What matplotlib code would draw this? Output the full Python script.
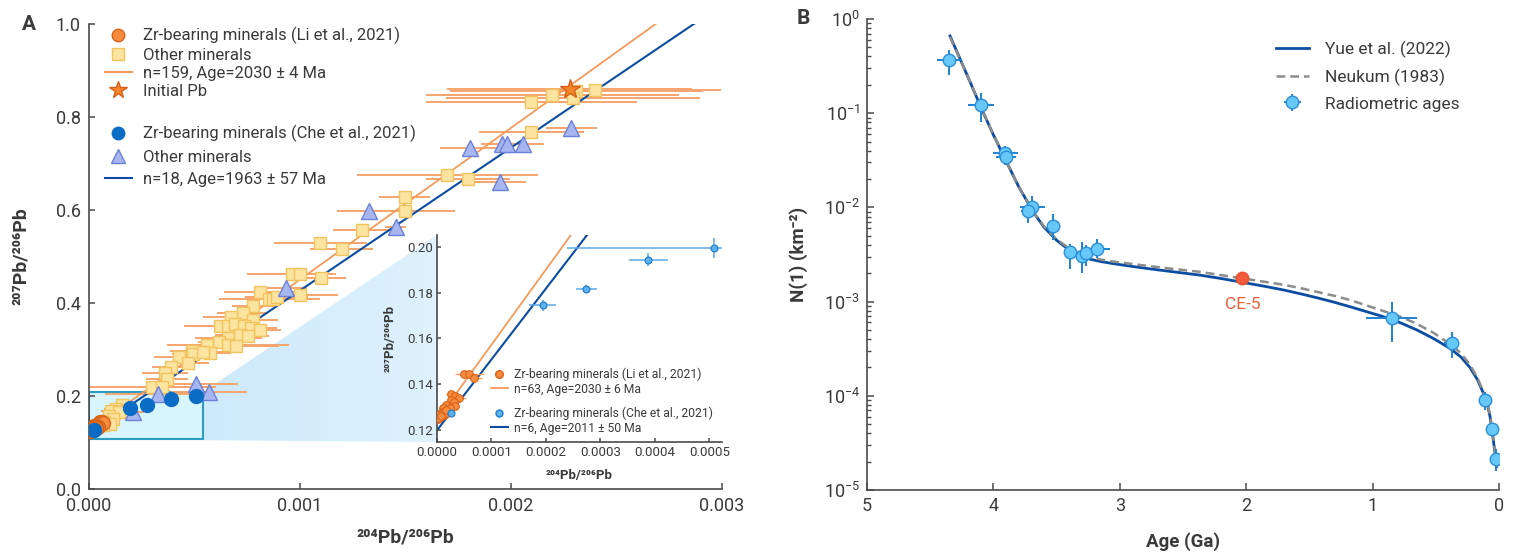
import numpy as np
import matplotlib
matplotlib.use("Agg")
import matplotlib.pyplot as plt
from matplotlib.patches import Rectangle, Polygon
from matplotlib.lines import Line2D
from matplotlib.colors import LinearSegmentedColormap

plt.rcParams['font.family'] = ['Roboto', 'DejaVu Sans']
plt.rcParams['mathtext.fontset'] = 'custom'
plt.rcParams['mathtext.rm'] = 'Roboto'
plt.rcParams['axes.unicode_minus'] = False

# ---------------- Panel A data (204Pb/206Pb vs 207Pb/206Pb) ----------------
# Zr-bearing minerals (Li et al., 2021)
li_zr_x = [0.0000500, 0.0000594, 0.0000675, 0.0000250, 0.0000325, 0.0000406, 0.0000250,
           0.0000313, 0.0000331, 0.0000156, 0.0000238, 0.0000113, 0.0000094, 0.0000063,
           0.0000019, 0.0000050, 0.0000013, 0.0000125, 0.0000188, 0.0000030, 0.0000080, 0.0000170]
li_zr_y = [0.1444, 0.1444, 0.1428, 0.1357, 0.1348, 0.1341, 0.1331,
           0.1324, 0.1308, 0.1312, 0.1295, 0.1295, 0.1280, 0.1273,
           0.1265, 0.1258, 0.1248, 0.1265, 0.1276, 0.1255, 0.1262, 0.1290]
li_zr_xerr = [0.000012, 0.000027, 0.000015, 0.000008, 0.000010, 0.000012, 0.000006,
              0.000008, 0.000006, 0.000008, 0.000006, 0.000005, 0.000005, 0.000004,
              0.000003, 0.000004, 0.000003, 0.000005, 0.000006, 0.000003, 0.000004, 0.000005]

# Other minerals (Li et al., 2021)
li_oth_x = [0.002397, 0.00231, 0.002196, 0.002294, 0.002097, 0.002097, 0.001698, 0.001797,
            0.001496, 0.001496, 0.001296, 0.001097, 0.001198, 0.00096, 0.001, 0.001098,
            0.00081, 0.000854, 0.000873, 0.00089, 0.001, 0.000778, 0.000728, 0.000671,
            0.000778, 0.00062, 0.00066, 0.000691, 0.000734, 0.00077, 0.00081, 0.00066,
            0.000715, 0.000755, 0.000617, 0.00066, 0.000699, 0.00056, 0.000573, 0.000486,
            0.000491, 0.000538, 0.000427, 0.00047, 0.000388, 0.000359, 0.00037, 0.0003,
            0.000348, 0.000158, 0.00013, 0.000174, 0.000106, 0.00014, 0.000095, 0.000114,
            0.00007, 0.000098, 0.000066]
li_oth_y = [0.859, 0.856, 0.847, 0.840, 0.833, 0.768, 0.675, 0.667,
            0.629, 0.5986, 0.5577, 0.529, 0.516, 0.463, 0.463, 0.454,
            0.423, 0.409, 0.409, 0.412, 0.418, 0.394, 0.3785, 0.3706,
            0.3628, 0.351, 0.351, 0.355, 0.350, 0.346, 0.343, 0.3254,
            0.331, 0.328, 0.3154, 0.3097, 0.308, 0.3097, 0.2925, 0.2974,
            0.290, 0.295, 0.2839, 0.271, 0.2617, 0.2494, 0.2366, 0.22,
            0.22, 0.1806, 0.1725, 0.1667, 0.1667, 0.166, 0.158, 0.1505,
            0.145, 0.1398, 0.137]
li_oth_xerr = [0.0006, 0.0006, 0.0006, 0.0006, 0.0005, 0.00025, 0.00043, 0.0002,
               0.00012, 0.00024, 0.00014, 0.00022, 0.00015, 0.00021, 0.00015, 0.00012,
               0.00017, 0.00024, 0.0002, 0.00015, 0.00018, 0.0001, 0.00012, 0.00013,
               0.00012, 0.00017, 0.00015, 0.0001, 0.0001, 0.00012, 0.0001, 0.00016,
               0.00012, 0.0001, 0.0001, 0.00029, 0.0002, 0.00012, 0.0001, 0.0001,
               0.0001, 0.0001, 0.00012, 0.0001, 0.00009, 0.00011, 0.0001, 0.0003,
               0.00025, 0.00006, 0.00006, 0.00005, 0.00005, 0.00005, 0.00005, 0.00004,
               0.00004, 0.00004, 0.00003]

# Initial Pb
init_pb_x = [0.002278]
init_pb_y = [0.860]
init_pb_xerr = [0.00058]

# Zr-bearing minerals (Che et al., 2021)
che_zr_x = [0.000025, 0.000194, 0.000274, 0.0003875, 0.000509]
che_zr_y = [0.1276, 0.1744, 0.1817, 0.1943, 0.1996]
che_zr_xerr = [0.000008, 0.000025, 0.000019, 0.000036, 0.00027]
che_zr_yerr = [0.0015, 0.0025, 0.0017, 0.0029, 0.0044]

# Other minerals (Che et al., 2021)
che_oth_x = [0.002286, 0.001804, 0.001959, 0.001983, 0.002057, 0.00195, 0.001327,
             0.001453, 0.000934, 0.000506, 0.00057, 0.000328, 0.000209]
che_oth_y = [0.776, 0.7326, 0.743, 0.743, 0.742, 0.661, 0.5986,
             0.5627, 0.432, 0.225, 0.2086, 0.2036, 0.1657]
che_oth_xerr = [0.00012, 0.00014, 0.0001, 0.0001, 0.0001, 0.00012, 0.00015,
                0.00005, 0.0001, 0.0002, 0.00018, 0.00025, 0.00005]

# isochrons: (intercept, slope)
iso_li_all = (0.1245, 326.0)
iso_che_all = (0.120, 307.0)
iso_li_zr = (0.1245, 328.0)
iso_che_zr = (0.120, 309.0)

# ---------------- Panel B data (crater chronology) ----------------
curve_age = [4.343, 4.2, 4.093, 4.0, 3.895, 3.8, 3.684, 3.6, 3.499, 3.394, 3.3, 3.236,
             3.15, 3.051, 2.9, 2.787, 2.6, 2.366, 2.2, 2.028, 1.85, 1.706, 1.57, 1.442,
             1.3, 1.179, 1.05, 0.915, 0.78, 0.651, 0.52, 0.388, 0.3, 0.23, 0.17, 0.124,
             0.09, 0.071, 0.045, 0.018]
yue_n = [0.661, 0.240, 0.111, 0.0589, 0.0302, 0.0166, 8.91e-3, 6.17e-3, 4.47e-3, 3.47e-3,
         3.02e-3, 2.82e-3, 2.66e-3, 2.53e-3, 2.36e-3, 2.25e-3, 2.09e-3, 1.91e-3, 1.76e-3,
         1.60e-3, 1.45e-3, 1.33e-3, 1.21e-3, 1.10e-3, 9.82e-4, 8.83e-4, 7.83e-4, 6.92e-4,
         5.96e-4, 5.01e-4, 4.07e-4, 3.19e-4, 2.57e-4, 2.00e-4, 1.48e-4, 1.07e-4, 7.94e-5,
         6.03e-5, 3.39e-5, 1.78e-5]
neukum_n = [0.646, 0.240, 0.112, 0.0589, 0.0302, 0.0166, 8.91e-3, 6.31e-3, 4.57e-3, 3.63e-3,
            3.16e-3, 2.95e-3, 2.79e-3, 2.66e-3, 2.51e-3, 2.40e-3, 2.24e-3, 2.07e-3, 1.91e-3,
            1.76e-3, 1.62e-3, 1.51e-3, 1.39e-3, 1.27e-3, 1.15e-3, 1.04e-3, 9.12e-4, 7.94e-4,
            6.92e-4, 5.82e-4, 4.68e-4, 3.55e-4, 2.82e-4, 2.14e-4, 1.55e-4, 1.10e-4, 7.94e-5,
            6.31e-5, 3.55e-5, 1.74e-5]

rad_age = [4.349, 4.098, 3.906, 3.90, 3.692, 3.724, 3.531, 3.394, 3.297, 3.27, 3.178,
           0.849, 0.374, 0.111, 0.053, 0.024]
rad_age_err = [0.10, 0.10, 0.10, 0.08, 0.10, 0.06, 0.03, 0.05, 0.07, 0.04, 0.10,
               0.20, 0.06, 0.02, 0.01, 0.01]
rad_n = [0.367, 0.122, 0.0375, 0.034, 0.0102, 0.0091, 0.0064, 0.00333, 0.00305, 0.0033,
         0.00365, 6.75e-4, 3.6e-4, 9.0e-5, 4.4e-5, 2.12e-5]
rad_n_lo = [0.254, 0.081, 0.0282, 0.028, 0.0079, 0.0068, 0.0045, 0.0022, 0.0020, 0.0024,
            0.0029, 3.7e-4, 2.5e-4, 7.0e-5, 3.8e-5, 1.6e-5]
rad_n_hi = [0.468, 0.163, 0.0447, 0.040, 0.0132, 0.0112, 0.0085, 0.0041, 0.0043, 0.0040,
            0.0046, 9.8e-4, 4.8e-4, 1.1e-4, 5.0e-5, 2.7e-5]

ce5_age = [2.03]
ce5_n = [1.77e-3]
ce5_n_lo = [1.65e-3]
ce5_n_hi = [1.90e-3]

# ---------------- styles ----------------
c_orange_line = '#f59a5a'
c_err = '#f6a56e'
c_blue_line = '#0b4da2'
c_sq_face, c_sq_edge = '#fbe3a0', '#f2c45e'
c_tri_face, c_tri_edge = '#a8b6f0', '#6a80da'
c_li_face, c_li_edge = '#f68c3c', '#d9621b'
c_che = '#0a6cc4'
c_axis = '#4a4a4a'
c_text = '#3a3a3a'

W, H = 1521, 560
fig = plt.figure(figsize=(W / 100, H / 100), dpi=100)


def fbox(l, t, r, b):
    return [l / W, 1 - b / H, (r - l) / W, (b - t) / H]


def style_axes(ax, size, length=4, pad=5):
    for s in ['top', 'right']:
        ax.spines[s].set_visible(False)
    for s in ['left', 'bottom']:
        ax.spines[s].set_color(c_axis)
        ax.spines[s].set_linewidth(1.2)
    ax.tick_params(direction='in', length=length, width=1.1, color=c_axis,
                   labelsize=size, labelcolor=c_text, pad=pad)


axA = fig.add_axes(fbox(89, 24, 722, 489))
axB = fig.add_axes(fbox(867, 19, 1499, 490))
axI = fig.add_axes(fbox(437, 235, 722, 442))

# ---------------- Panel A main ----------------
axA.set_xlim(0, 0.003)
axA.set_ylim(0, 1.0)
style_axes(axA, 13, length=4, pad=6)
axA.set_xticks([0, 0.001, 0.002, 0.003])
axA.set_xticklabels(['0.000', '0.001', '0.002', '0.003'])
axA.set_yticks([0, 0.2, 0.4, 0.6, 0.8, 1.0])
axA.set_yticklabels(['0.0', '0.2', '0.4', '0.6', '0.8', '1.0'])

# zoom box + shading towards inset
rx0, ry0, rx1, ry1 = 0.0, 0.107, 0.00054, 0.2086
axA.add_patch(Rectangle((rx0, ry0), rx1 - rx0, ry1 - ry0, facecolor='#d8f4fc',
                        edgecolor='#2b9cc4', lw=1.5, zorder=1))
inv = axA.transData.inverted()
ins_bl = inv.transform(fig.transFigure.transform((437 / W, 1 - 442 / H)))
ins_tl = inv.transform(fig.transFigure.transform((437 / W, 1 - 235 / H)))
shade_xy = [(rx1, ry1), (ins_tl[0], ins_tl[1]), (ins_bl[0], ins_bl[1]), (rx1, ry0 - 0.002)]
poly = Polygon(shade_xy, closed=True, facecolor='none', edgecolor='none')
axA.add_patch(poly)
shade_cmap = LinearSegmentedColormap.from_list('shade', ['#cde9fb', '#dff2fd'])
gimg = axA.imshow(np.linspace(0, 1, 256).reshape(1, -1), cmap=shade_cmap,
                  extent=[rx1, ins_tl[0], ins_bl[1], ins_tl[1]], aspect='auto',
                  origin='lower', zorder=0.5)
gimg.set_clip_path(poly)
axA.set_xlim(0, 0.003)
axA.set_ylim(0, 1.0)

# isochron lines
xl = np.array([0, 0.003])
axA.plot(xl, iso_li_all[0] + iso_li_all[1] * xl, color=c_orange_line, lw=1.3, zorder=2)
axA.plot(xl, iso_che_all[0] + iso_che_all[1] * xl, color=c_blue_line, lw=1.5, zorder=2)

# error bars
axA.errorbar(li_oth_x, li_oth_y, xerr=li_oth_xerr, yerr=0.004, fmt='none',
             ecolor=c_err, elinewidth=1.4, capsize=0, zorder=1.5)
axA.errorbar(che_oth_x, che_oth_y, xerr=che_oth_xerr, yerr=0.004, fmt='none',
             ecolor=c_err, elinewidth=1.4, capsize=0, zorder=1.5)
axA.errorbar(init_pb_x, init_pb_y, xerr=init_pb_xerr, fmt='none',
             ecolor=c_err, elinewidth=1.4, capsize=0, zorder=1.5)

axA.plot(li_oth_x, li_oth_y, ls='none', marker='s', ms=9, mfc=c_sq_face, mec=c_sq_edge,
         mew=1, zorder=3)
axA.plot(che_oth_x, che_oth_y, ls='none', marker='^', ms=11, mfc=c_tri_face, mec=c_tri_edge,
         mew=1, zorder=4)
axA.plot(li_zr_x, li_zr_y, ls='none', marker='o', ms=10, mfc=c_li_face, mec=c_li_edge,
         mew=1, zorder=5)
axA.plot(che_zr_x, che_zr_y, ls='none', marker='o', ms=10, mfc=c_che, mec=c_che,
         mew=1, zorder=6)
axA.plot(init_pb_x, init_pb_y, ls='none', marker='*', ms=15, mfc='#f5852a', mec='#d45f18',
         mew=1, zorder=7)

axA.set_xlabel('²⁰⁴Pb/²⁰⁶Pb', fontsize=14, fontweight='bold', color=c_text)
axA.xaxis.set_label_coords(0.5, -0.085)
axA.set_ylabel('²⁰⁷Pb/²⁰⁶Pb', fontsize=14, fontweight='bold', color=c_text)
axA.yaxis.set_label_coords(-0.093, 0.5)

leg_a1 = [
    (Line2D([], [], ls='none', marker='o', ms=9, mfc=c_li_face, mec=c_li_edge),
     'Zr-bearing minerals (Li et al., 2021)'),
    (Line2D([], [], ls='none', marker='s', ms=8, mfc=c_sq_face, mec=c_sq_edge),
     'Other minerals'),
    (Line2D([], [], color=c_orange_line, lw=1.5), 'n=159, Age=2030 ± 4 Ma'),
    (Line2D([], [], ls='none', marker='*', ms=13, mfc='#f5852a', mec='#d45f18'),
     'Initial Pb'),
]
leg_a2 = [
    (Line2D([], [], ls='none', marker='o', ms=9, mfc=c_che, mec=c_che),
     'Zr-bearing minerals (Che et al., 2021)'),
    (Line2D([], [], ls='none', marker='^', ms=10, mfc=c_tri_face, mec=c_tri_edge),
     'Other minerals'),
    (Line2D([], [], color=c_blue_line, lw=1.5), 'n=18, Age=1963 ± 57 Ma'),
]
lg1 = axA.legend([h for h, _ in leg_a1], [t for _, t in leg_a1], loc='upper left',
                 bbox_to_anchor=(105 / W, 1 - 27 / H), bbox_transform=fig.transFigure,
                 frameon=False, fontsize=12, handlelength=1.6, handletextpad=0.7,
                 labelspacing=0.2, borderpad=0, borderaxespad=0, labelcolor=c_text)
axA.add_artist(lg1)
axA.legend([h for h, _ in leg_a2], [t for _, t in leg_a2], loc='upper left',
           bbox_to_anchor=(105 / W, 1 - 125 / H), bbox_transform=fig.transFigure,
           frameon=False, fontsize=12, handlelength=1.6, handletextpad=0.7,
           labelspacing=0.45, borderpad=0, borderaxespad=0, labelcolor=c_text)

axA.text(-0.095, 1.0, 'A', transform=axA.transAxes, fontsize=15, fontweight='bold',
         color=c_text, ha='center', va='center')

# ---------------- Panel A inset ----------------
axI.set_facecolor('white')
style_axes(axI, 9.5, length=3, pad=3)
axI.set_xlim(0, 0.000523)
axI.set_ylim(0.1149, 0.2051)
axI.set_xticks([0, 0.0001, 0.0002, 0.0003, 0.0004, 0.0005])
axI.set_xticklabels(['0.0000', '0.0001', '0.0002', '0.0003', '0.0004', '0.0005'])
axI.set_yticks([0.12, 0.14, 0.16, 0.18, 0.20])
axI.set_yticklabels(['0.12', '0.14', '0.16', '0.18', '0.20'])

xi = np.array([0, 0.0006])
axI.plot(xi, iso_li_zr[0] + iso_li_zr[1] * xi, color=c_orange_line, lw=1.3, zorder=2)
axI.plot(xi, iso_che_zr[0] + iso_che_zr[1] * xi, color=c_blue_line, lw=1.5, zorder=2)
axI.errorbar(li_zr_x, li_zr_y, xerr=li_zr_xerr, yerr=0.0008, fmt='o', ms=5.5,
             mfc=c_li_face, mec=c_li_edge, mew=0.8, ecolor=c_err, elinewidth=1,
             capsize=0, zorder=4)
axI.errorbar(che_zr_x, che_zr_y, xerr=che_zr_xerr, yerr=che_zr_yerr, fmt='o', ms=5,
             mfc='#5cb2ec', mec='#1f78c8', mew=0.8, ecolor='#5aa9e8', elinewidth=1.1,
             capsize=0, zorder=4)
axI.set_xlabel('²⁰⁴Pb/²⁰⁶Pb', fontsize=9.5, fontweight='bold', color=c_text)
axI.xaxis.set_label_coords(0.5, -0.13)
axI.set_ylabel('²⁰⁷Pb/²⁰⁶Pb', fontsize=9.5, fontweight='bold', color=c_text)
axI.yaxis.set_label_coords(-0.14, 0.5)

leg_i1 = [
    (Line2D([], [], ls='none', marker='o', ms=5.5, mfc=c_li_face, mec=c_li_edge),
     'Zr-bearing minerals (Li et al., 2021)'),
    (Line2D([], [], color=c_orange_line, lw=1.3), 'n=63, Age=2030 ± 6 Ma'),
]
leg_i2 = [
    (Line2D([], [], ls='none', marker='o', ms=5, mfc='#5cb2ec', mec='#1f78c8'),
     'Zr-bearing minerals (Che et al., 2021)'),
    (Line2D([], [], color=c_blue_line, lw=1.5), 'n=6, Age=2011 ± 50 Ma'),
]
lg3 = axI.legend([h for h, _ in leg_i1], [t for _, t in leg_i1], loc='upper left',
                 bbox_to_anchor=(491 / W, 1 - 368 / H), bbox_transform=fig.transFigure,
                 frameon=False, fontsize=8.7, handlelength=1.4, handletextpad=0.5,
                 labelspacing=0.1, borderpad=0, borderaxespad=0, labelcolor=c_text)
axI.add_artist(lg3)
axI.legend([h for h, _ in leg_i2], [t for _, t in leg_i2], loc='upper left',
           bbox_to_anchor=(491 / W, 1 - 407 / H), bbox_transform=fig.transFigure,
           frameon=False, fontsize=8.7, handlelength=1.4, handletextpad=0.5,
           labelspacing=0.1, borderpad=0, borderaxespad=0, labelcolor=c_text)

# ---------------- Panel B ----------------
axB.set_yscale('log')
axB.set_xlim(5, 0)
axB.set_ylim(1e-5, 1)
style_axes(axB, 13, length=5, pad=5)
axB.tick_params(which='minor', direction='in', length=3, width=1, color=c_axis)
axB.set_xticks([5, 4, 3, 2, 1, 0])

axB.plot(curve_age, yue_n, color=c_blue_line, lw=2, zorder=2, label='Yue et al. (2022)')
axB.plot(curve_age, neukum_n, color='#8c8c8c', lw=1.8, ls=(0, (3.5, 2)), zorder=3,
         label='Neukum (1983)')
rad_yerr = [np.array(rad_n) - np.array(rad_n_lo), np.array(rad_n_hi) - np.array(rad_n)]
eb = axB.errorbar(rad_age, rad_n, xerr=rad_age_err, yerr=rad_yerr, fmt='o', ms=9,
                  mfc='#66c8f8', mec='#2a8fd8', mew=1, ecolor='#1f82d2', elinewidth=1.4,
                  capsize=0, zorder=4, label='Radiometric ages')
ce5_yerr = [np.array(ce5_n) - np.array(ce5_n_lo), np.array(ce5_n_hi) - np.array(ce5_n)]
axB.errorbar(ce5_age, ce5_n, xerr=0.01, yerr=ce5_yerr, fmt='o', ms=9, mfc='#f25a3c',
             mec='#e8502f', ecolor='#1f82d2', elinewidth=1, capsize=0, zorder=5)
axB.annotate('CE-5', (ce5_age[0], ce5_n[0]), xytext=(0, -19), textcoords='offset points',
             ha='center', va='center', fontsize=12.5, color='#f0603c')

axB.set_xlabel('Age (Ga)', fontsize=13.5, fontweight='bold', color=c_text)
axB.xaxis.set_label_coords(0.5, -0.09)
axB.set_ylabel('N(1) (km⁻²)', fontsize=13.5, fontweight='bold', color=c_text)
axB.yaxis.set_label_coords(-0.093, 0.5)

hB = [Line2D([], [], color=c_blue_line, lw=2),
      Line2D([], [], color='#8c8c8c', lw=1.8, ls=(0, (3.5, 2))),
      eb]
axB.legend(hB, ['Yue et al. (2022)', 'Neukum (1983)', 'Radiometric ages'],
           loc='upper left', bbox_to_anchor=(1276 / W, 1 - 41 / H),
           bbox_transform=fig.transFigure, frameon=False, fontsize=12.5,
           handlelength=1.9, handletextpad=0.9, labelspacing=0.6, borderpad=0,
           borderaxespad=0, labelcolor=c_text)

axB.text(-0.101, 1.0, 'B', transform=axB.transAxes, fontsize=15, fontweight='bold',
         color=c_text, ha='center', va='center')

fig.savefig('out.png', dpi=100)
